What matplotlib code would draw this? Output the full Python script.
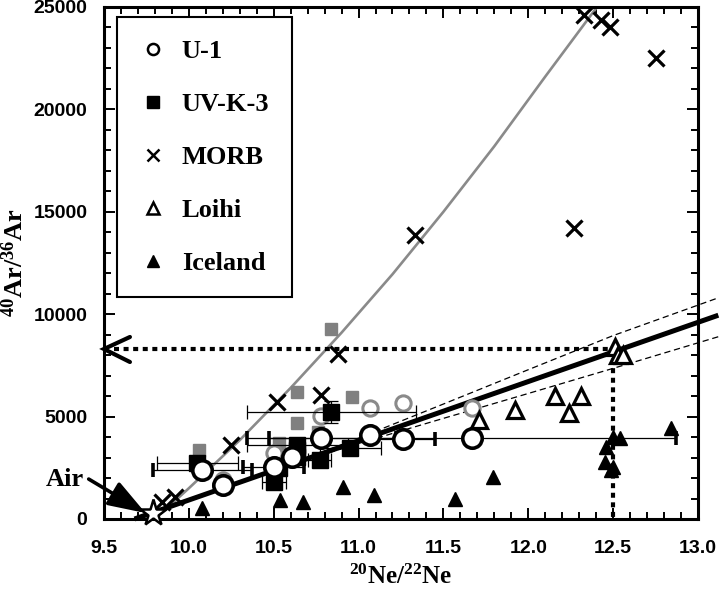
import matplotlib
matplotlib.use("Agg")
import matplotlib.pyplot as plt
from matplotlib.lines import Line2D

plt.rcParams['font.family'] = ['Liberation Sans', 'DejaVu Sans']
plt.rcParams['mathtext.default'] = 'regular'

# U-1 (open black circles) and their x errors
u1_x = [10.08, 10.20, 10.50, 10.61, 10.78, 11.07, 11.26, 11.67]
u1_y = [2390, 1660, 2540, 3030, 3950, 4100, 3900, 3950]
u1_xerr = [0.29, 0, 0.18, 0, 0.44, 0, 0.19, 1.2]

# U-1 grey circles
u1g_x = [10.20, 10.50, 10.78, 11.07, 11.26, 11.67]
u1g_y = [1900, 3220, 5030, 5400, 5660, 5420]

# UV-K-3 (black squares)
uvk_x = [10.05, 10.50, 10.53, 10.64, 10.64, 10.64, 10.77, 10.95, 10.84]
uvk_y = [2730, 1810, 2490, 3030, 3350, 3610, 2880, 3450, 5220]
uvk_xerr = [0.24, 0.07, 0, 0, 0, 0.30, 0.07, 0.18, 0.5]
uvk_yerr = [0, 0, 0, 0, 0, 0, 0, 0, 550]

# UV-K-3 grey squares
uvkg_x = [10.06, 10.53, 10.64, 10.76, 10.64, 10.96, 10.84]
uvkg_y = [3370, 3710, 4690, 4250, 6200, 5960, 9280]

# MORB
morb_x = [9.84, 9.92, 10.25, 10.52, 10.78, 10.88, 11.33, 12.27, 12.33, 12.43, 12.48, 12.75]
morb_y = [830, 1070, 3610, 5710, 6060, 8060, 13870, 14210, 24610, 24370, 24020, 22510]

# Loihi
loihi_x = [12.51, 12.53, 12.56, 11.71, 11.92, 12.16, 12.24, 12.31]
loihi_y = [8400, 8010, 8010, 4830, 5320, 6000, 5180, 6000]

# Iceland
ice_x = [10.08, 10.54, 10.67, 10.91, 11.09, 11.57, 11.79, 12.46, 12.50, 12.54, 12.45, 12.50, 12.49, 12.84]
ice_y = [560, 930, 830, 1560, 1170, 980, 2050, 3520, 4000, 3950, 2780, 2540, 2400, 4440]

# air point
air_x, air_y = 9.79, 290

# mixing curve (grey)
curve_x = [9.80, 10.0, 10.3, 10.6, 10.9, 11.2, 11.5, 11.8, 12.1, 12.45]
curve_y = [0, 1500, 3850, 6400, 9100, 11950, 15000, 18200, 21600, 25500]

# regression line and its dashed bands
fit_x = [9.68, 13.12]
fit_y = [0, 9950]
band_x = [10.60, 11.0, 11.5, 12.0, 12.5, 13.12]
band_up = [2661, 3947, 5613, 7289, 8955, 10800]
band_lo = [2661, 3687, 4913, 6129, 7355, 8900]

# Loihi end member guide
lo_end_x, lo_end_y = 12.5, 8300

fig = plt.figure(figsize=(7.2, 5.93), dpi=100)
ax = fig.add_axes([0.1444, 0.1248, 0.825, 0.8634])

ax.plot(curve_x, curve_y, color='#8a8a8a', lw=1.9, zorder=2)
ax.plot(fit_x, fit_y, color='black', lw=3.6, clip_on=False, zorder=3, solid_capstyle='butt')
ax.plot(band_x, band_up, color='black', lw=0.9, ls=(0, (5, 3)), clip_on=False, zorder=3)
ax.plot(band_x, band_lo, color='black', lw=0.9, ls=(0, (5, 3)), clip_on=False, zorder=3)

# dotted guides to Loihi end member
ax.plot([9.56, lo_end_x], [lo_end_y, lo_end_y], color='black', lw=3,
        ls=(0, (1.2, 1.1)), dash_capstyle='butt', zorder=2)
ax.plot([lo_end_x, lo_end_x], [lo_end_y, 0], color='black', lw=3,
        ls=(0, (1.2, 1.1)), dash_capstyle='butt', zorder=2)
ax.plot([9.653, 9.5, 9.653], [8887, lo_end_y, 7666], color='black', lw=3,
        clip_on=False, solid_capstyle='round', solid_joinstyle='miter', zorder=4)

# grey data first
ax.plot(uvkg_x, uvkg_y, 's', ms=9, color='#808080', mec='#808080', zorder=4)
ax.plot(u1g_x, u1g_y, 'o', ms=11, mfc='white', mec='#8a8a8a', mew=2.2, zorder=4)

ax.errorbar(uvk_x, uvk_y, xerr=uvk_xerr, yerr=uvk_yerr, fmt='s', ms=11, color='black',
            ecolor='black', elinewidth=0.9, capsize=5, capthick=0.9, zorder=5)
ax.errorbar(u1_x, u1_y, xerr=u1_xerr, fmt='o', ms=14, mfc='white', mec='black', mew=2.6,
            ecolor='black', elinewidth=0.9, capsize=5, capthick=0.9, zorder=6)
ax.plot(morb_x, morb_y, 'x', ms=12, color='black', mew=2.3, zorder=6)
ax.plot(loihi_x, loihi_y, '^', ms=11, mfc='white', mec='black', mew=2.3, zorder=6)
ax.plot(ice_x, ice_y, '^', ms=10, color='black', zorder=6)
ax.plot([air_x], [air_y], '*', ms=20, mfc='white', mec='black', mew=1.8, clip_on=False, zorder=7)

ax.text(9.385, 1930, 'Air', fontsize=19, fontweight='bold', family='Liberation Serif',
        ha='right', va='center')
ax.annotate('', xy=(9.745, 290), xytext=(9.41, 1950), annotation_clip=False,
            arrowprops=dict(arrowstyle='-|>,head_length=2.3,head_width=0.8', color='black',
                            lw=2.6, shrinkA=0, shrinkB=0, mutation_scale=10))

ax.set_xlim(9.5, 13.0)
ax.set_ylim(0, 25000)
ax.set_xticks([9.5, 10.0, 10.5, 11.0, 11.5, 12.0, 12.5, 13.0])
ax.set_xticklabels(['9.5', '10.0', '10.5', '11.0', '11.5', '12.0', '12.5', '13.0'])
ax.set_xticks([9.5 + 0.1 * i for i in range(36)], minor=True)
ax.set_yticks([0, 5000, 10000, 15000, 20000, 25000])
ax.set_yticks(list(range(0, 25001, 1000)), minor=True)
ax.tick_params(which='both', direction='in', top=True, right=True, width=1.4)
ax.tick_params(which='major', length=8)
ax.tick_params(which='minor', length=5)
ax.tick_params(axis='x', which='major', pad=15)
ax.tick_params(axis='y', which='major', pad=12)
for lab in ax.get_xticklabels() + ax.get_yticklabels():
    lab.set_fontsize(14)
    lab.set_fontweight('bold')
for sp in ax.spines.values():
    sp.set_linewidth(2.2)

ax.set_xlabel('$^{20}$Ne/$^{22}$Ne', fontsize=18, fontweight='bold', family='Liberation Serif', labelpad=6)
ax.set_ylabel('$^{40}$Ar/$^{36}$Ar', fontsize=19, fontweight='bold', family='Liberation Serif', labelpad=4)

handles = [
    Line2D([], [], ls='', marker='o', ms=8, mfc='white', mec='black', mew=1.8),
    Line2D([], [], ls='', marker='s', ms=9, color='black'),
    Line2D([], [], ls='', marker='x', ms=9, color='black', mew=1.8),
    Line2D([], [], ls='', marker='^', ms=8, mfc='white', mec='black', mew=1.8),
    Line2D([], [], ls='', marker='^', ms=9, color='black'),
]
labels = ['U-1', 'UV-K-3', 'MORB', 'Loihi', 'Iceland']
leg = ax.legend(handles, labels, loc='upper left', bbox_to_anchor=(0.022, 0.9805),
                borderaxespad=0, frameon=True, fancybox=False, framealpha=1,
                edgecolor='black', handlelength=1.0, handletextpad=0.6,
                labelspacing=1.12, borderpad=0.85,
                prop={'family': 'Liberation Serif', 'weight': 'bold', 'size': 19})
leg.get_frame().set_linewidth(1.5)
leg.set_zorder(10)

fig.savefig('out.png', dpi=100)
